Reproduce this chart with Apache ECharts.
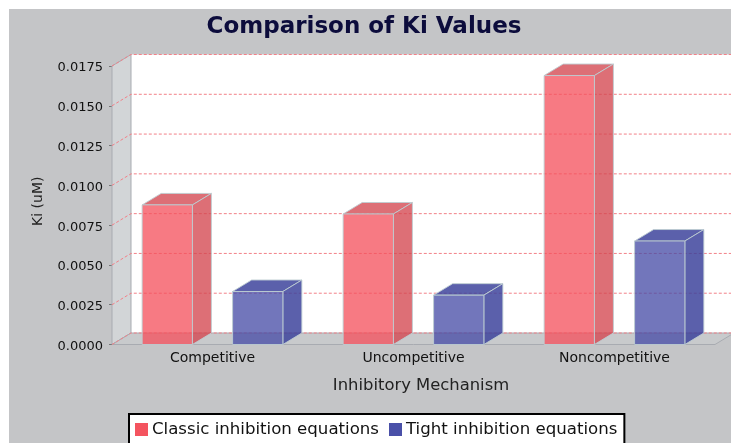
<!DOCTYPE html>
<html>
<head>
<meta charset="utf-8">
<script src="https://cdn.jsdelivr.net/npm/echarts@6/dist/echarts.min.js"></script>
<style>
  html, body { margin: 0; background: #fff; overflow: hidden; }
  #panel { position: absolute; left: 9px; top: 9px; right: 0; bottom: 0; background: #c4c5c7; }
  #chart { position: absolute; left: 0; top: 0; width: 731px; height: 443px; }
</style>
</head>
<body>
<div id="panel"></div>
<div id="chart"></div>
<script>
const categories = ['Competitive', 'Uncompetitive', 'Noncompetitive'];
const classicValues = [0.00877, 0.0082, 0.0169];
const tightValues = [0.00333, 0.0031, 0.0065];
const tickValues = [0, 0.0025, 0.005, 0.0075, 0.01, 0.0125, 0.015, 0.0175];

const FONT = '"DejaVu Sans", sans-serif';
const DX = 19, DY = 11.5;   // 3d depth of walls and bars

const chart = echarts.init(document.getElementById('chart'));

// back wall, side wall, floor and the dashed gridlines
function renderWall(params, api) {
  const cs = params.coordSys;
  const y = api.coord([0, api.value(0)])[1];
  const x0 = cs.x, x1 = cs.x + cs.width, yb = cs.y + cs.height, yt = cs.y;
  const children = [];
  if (params.dataIndex === 0) {
    children.push({
      type: 'rect',
      shape: { x: x0 + DX, y: yt - DY, width: cs.width + DX, height: cs.height },
      style: { fill: '#fff' }
    }, {
      type: 'polygon',
      shape: { points: [[x0, yb], [x0 + DX, yb - DY], [x0 + DX, yt - DY], [x0, yt]] },
      style: { fill: '#d2d5d7', stroke: '#a8abb1', lineWidth: 1 }
    }, {
      type: 'polygon',
      shape: { points: [[x0, yb], [x1, yb], [x1 + DX, yb - DY], [x0 + DX, yb - DY]] },
      style: { fill: '#c8cacc', stroke: '#a8abb1', lineWidth: 1 }
    });
  }
  children.push({
    type: 'polyline',
    shape: { points: [[x0, y], [x0 + DX, y - DY], [x1 + DX, y - DY]] },
    style: { fill: 'none', stroke: '#f28088', lineWidth: 1, lineDash: [3, 2] }
  });
  return { type: 'group', children };
}

function barRenderer(offset, front, side) {
  return function (params, api) {
    const band = api.size([1, 0])[0];
    const top = api.coord([api.value(0), api.value(1)]);
    const base = api.coord([api.value(0), 0]);
    const w = band * 0.25;
    const x = top[0] + band * offset - w / 2;
    const edge = { stroke: 'rgba(190,205,210,0.9)', lineWidth: 1 };
    return {
      type: 'group',
      children: [{
        type: 'polygon',
        shape: { points: [[x, top[1]], [x + w, top[1]], [x + w + DX, top[1] - DY], [x + DX, top[1] - DY]] },
        style: { fill: side, ...edge }
      }, {
        type: 'polygon',
        shape: { points: [[x + w, top[1]], [x + w + DX, top[1] - DY], [x + w + DX, base[1] - DY], [x + w, base[1]]] },
        style: { fill: side, ...edge }
      }, {
        type: 'rect',
        shape: { x: x, y: top[1], width: w, height: base[1] - top[1] },
        style: { fill: front, ...edge }
      }]
    };
  };
}

chart.setOption({
  animation: false,
  backgroundColor: 'transparent',
  title: {
    text: 'Comparison of Ki Values',
    left: 359,
    top: 11,
    textAlign: 'center',
    textStyle: { fontFamily: FONT, fontSize: 23, fontWeight: 'bold', color: '#0c0c3c' }
  },
  legend: {
    data: ['Classic inhibition equations', 'Tight inhibition equations'],
    left: 129,
    top: 414,
    padding: [7, 7, 6, 6],
    itemWidth: 13,
    itemHeight: 13,
    itemGap: 10,
    icon: 'rect',
    backgroundColor: '#fff',
    borderColor: '#000',
    borderWidth: 2,
    borderRadius: 0,
    textStyle: { fontFamily: FONT, fontSize: 16.6, color: '#111', padding: [0, 0, 0, -1] }
  },
  grid: { left: 112, right: 16, top: 66, bottom: 98.5, containLabel: false },
  xAxis: {
    type: 'category',
    data: categories,
    name: 'Inhibitory Mechanism',
    nameLocation: 'middle',
    nameGap: 33,
    nameTextStyle: { fontFamily: FONT, fontSize: 16.4, color: '#222', padding: [0, 0, 0, 15] },
    axisLine: { show: false },
    axisTick: { show: false },
    axisLabel: { fontFamily: FONT, fontSize: 14, color: '#111', margin: 7 }
  },
  yAxis: {
    type: 'value',
    min: 0,
    max: 0.0175,
    interval: 0.0025,
    name: 'Ki (uM)',
    nameLocation: 'middle',
    nameGap: 67,
    nameTextStyle: { fontFamily: FONT, fontSize: 14, color: '#222', padding: [0, 0, 0, 8] },
    axisLine: { show: true, lineStyle: { color: '#9a9da3' } },
    axisTick: { show: true, length: 3, lineStyle: { color: '#777' } },
    axisLabel: { fontFamily: FONT, fontSize: 13, color: '#111', margin: 9, verticalAlign: 'top', lineHeight: 4, formatter: v => v.toFixed(4) },
    splitLine: { show: false }
  },
  series: [
    {
      type: 'custom',
      name: 'wall',
      z: 1,
      silent: true,
      renderItem: renderWall,
      encode: { y: 0 },
      data: tickValues.map(v => [v])
    },
    {
      type: 'custom',
      name: 'Classic inhibition equations',
      z: 2,
      itemStyle: { color: '#f4545f' },
      renderItem: barRenderer(-0.225, 'rgba(244,80,92,0.76)', 'rgba(212,70,80,0.78)'),
      encode: { x: 0, y: 1 },
      data: classicValues.map((v, i) => [i, v])
    },
    {
      type: 'custom',
      name: 'Tight inhibition equations',
      z: 2,
      itemStyle: { color: '#4a50a8' },
      renderItem: barRenderer(0.225, 'rgba(70,75,165,0.76)', 'rgba(60,65,155,0.84)'),
      encode: { x: 0, y: 1 },
      data: tightValues.map((v, i) => [i, v])
    }
  ]
});
</script>
</body>
</html>
